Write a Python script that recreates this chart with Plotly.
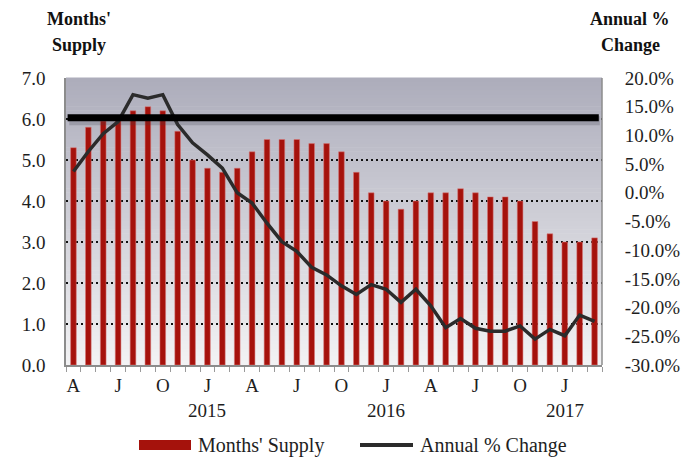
import plotly.graph_objects as go

# ---------------- data ----------------
months = ["2014-04", "2014-05", "2014-06", "2014-07", "2014-08", "2014-09", "2014-10", "2014-11", "2014-12",
          "2015-01", "2015-02", "2015-03", "2015-04", "2015-05", "2015-06", "2015-07", "2015-08", "2015-09",
          "2015-10", "2015-11", "2015-12",
          "2016-01", "2016-02", "2016-03", "2016-04", "2016-05", "2016-06", "2016-07", "2016-08", "2016-09",
          "2016-10", "2016-11", "2016-12",
          "2017-01", "2017-02", "2017-03"]
months_supply = [5.3, 5.8, 5.95, 6.0, 6.2, 6.3, 6.2, 5.7, 5.0,
                 4.8, 4.7, 4.8, 5.2, 5.5, 5.5, 5.5, 5.4, 5.4, 5.2, 4.7, 4.2,
                 4.0, 3.8, 4.0, 4.2, 4.2, 4.3, 4.2, 4.1, 4.1, 4.0, 3.5, 3.2,
                 3.0, 3.0, 3.1]
annual_pct_change = [3.7, 7.2, 10.3, 12.4, 17.1, 16.5, 17.1, 11.9, 8.7,
                     6.6, 4.3, 0.0, -1.8, -5.3, -8.5, -10.2, -13.0, -14.3, -16.2, -17.7, -16.0,
                     -16.8, -19.1, -16.8, -19.7, -23.5, -21.9, -23.6, -24.1, -24.1, -23.2, -25.5, -23.8,
                     -24.9, -21.3, -22.4]
month_letters = {"01": "J", "04": "A", "07": "J", "10": "O"}
left_ticks = [0, 1, 2, 3, 4, 5, 6, 7]
left_ticktext = ["0.0", "1.0", "2.0", "3.0", "4.0", "5.0", "6.0", "7.0"]
right_ticks = [-30, -25, -20, -15, -10, -5, 0, 5, 10, 15, 20]
right_ticktext = ["-30.0%", "-25.0%", "-20.0%", "-15.0%", "-10.0%", "-5.0%", "0.0%",
                  "5.0%", "10.0%", "15.0%", "20.0%"]
balanced_level = 6.03
series_names = ["Months' Supply", "Annual % Change"]
left_title = ["Months'", "Supply"]
right_title = ["Annual %", "Change"]

# ---------------- layout constants ----------------
W, H = 698, 459
PL, PT, PR, PB = 66, 78, 602, 365   # plot area in window pixels
L, T = PL, PT
PW, PH = PR - PL, PB - PT
R, B = W - L - PW, H - T - PH
FONT = "Liberation Serif"
BAR_COLOR = "#A5120C"
LINE_COLOR = "#2b2b2b"
TXT = "#1e1e1e"


def px2x(px):
    return (px - PL) / PW


def py2y(py):
    return (PB - py) / PH


xidx = list(range(len(months)))
tickvals = [i for i, m in enumerate(months) if m[5:] in month_letters]
ticktext = [month_letters[months[i][5:]] for i in tickvals]
year_idx = [i for i, m in enumerate(months) if m[5:] == "01"]

fig = go.Figure()
fig.add_trace(go.Bar(
    x=xidx, y=months_supply, name=series_names[0],
    marker=dict(color=BAR_COLOR, line=dict(color="rgba(215,120,120,0.9)", width=0.6)),
    width=0.38, yaxis="y", showlegend=False,
))
fig.add_trace(go.Scatter(
    x=xidx, y=annual_pct_change, name=series_names[1], mode="lines",
    line=dict(color=LINE_COLOR, width=3.5), yaxis="y2", showlegend=False,
))

shapes = []
# vertical gradient background
n = 70
top_c = (172, 172, 187)
bot_c = (243, 243, 244)
for k in range(n):
    f = (k + 0.5) / n
    c = tuple(round(bot_c[j] + (top_c[j] - bot_c[j]) * f) for j in range(3))
    shapes.append(dict(type="rect", xref="paper", yref="paper", x0=0, x1=1,
                       y0=k / n, y1=(k + 1) / n + 0.002, layer="below",
                       line=dict(width=0), fillcolor="rgb(%d,%d,%d)" % c))
# shadow + balanced-market black line
shapes.append(dict(type="line", xref="paper", yref="y", x0=0.006, x1=0.996,
                   y0=balanced_level - 0.07, y1=balanced_level - 0.07,
                   line=dict(color="rgba(60,60,70,0.22)", width=9), layer="above"))
shapes.append(dict(type="line", xref="paper", yref="y", x0=0.003, x1=0.994,
                   y0=balanced_level, y1=balanced_level,
                   line=dict(color="#000000", width=7), layer="above"))
# right plot border
shapes.append(dict(type="line", xref="paper", yref="paper", x0=1, x1=1, y0=0, y1=1,
                   line=dict(color="#8c8c8c", width=1.5), layer="above"))

# manual legend
ly = py2y(445)
shapes.append(dict(type="rect", xref="paper", yref="paper", x0=px2x(139), x1=px2x(191),
                   y0=py2y(450), y1=py2y(440), fillcolor=BAR_COLOR, line=dict(width=0)))
shapes.append(dict(type="line", xref="paper", yref="paper", x0=px2x(360), x1=px2x(413),
                   y0=ly, y1=ly, line=dict(color=LINE_COLOR, width=4)))

annotations = []
annotations.append(dict(text=series_names[0], xref="paper", yref="paper", x=px2x(196), y=ly,
                        xanchor="left", yanchor="middle", showarrow=False,
                        font=dict(family=FONT, size=20, color=TXT)))
annotations.append(dict(text=series_names[1], xref="paper", yref="paper", x=px2x(418), y=ly,
                        xanchor="left", yanchor="middle", showarrow=False,
                        font=dict(family=FONT, size=20, color=TXT)))
# year labels
for i in year_idx:
    annotations.append(dict(text=months[i][:4], xref="x", yref="paper", x=i, y=py2y(410),
                            xanchor="center", yanchor="middle", showarrow=False,
                            font=dict(family=FONT, size=19, color=TXT)))
# axis titles
for line_txt, ypx in zip(left_title, [19, 45]):
    annotations.append(dict(text="<b>%s</b>" % line_txt, xref="paper", yref="paper",
                            x=px2x(79), y=py2y(ypx), xanchor="center", yanchor="middle",
                            showarrow=False, font=dict(family=FONT, size=18, color="#111")))
for line_txt, ypx in zip(right_title, [19, 45]):
    annotations.append(dict(text="<b>%s</b>" % line_txt, xref="paper", yref="paper",
                            x=px2x(630), y=py2y(ypx), xanchor="center", yanchor="middle",
                            showarrow=False, font=dict(family=FONT, size=18, color="#111")))

fig.update_layout(
    width=W, height=H,
    margin=dict(l=L, r=R, t=T, b=B, pad=0),
    paper_bgcolor="white", plot_bgcolor="rgba(0,0,0,0)",
    font=dict(family=FONT, size=19, color=TXT),
    showlegend=False,
    xaxis=dict(
        range=[-0.5, len(months) - 0.5],
        tickmode="array", tickvals=tickvals, ticktext=ticktext,
        ticks="", showgrid=False, zeroline=False,
        showline=True, linecolor="#8c8c8c", linewidth=1.5,
        ticklabelstandoff=2,
        minor=dict(tickmode="array", tickvals=[i - 0.5 for i in range(len(months) + 1)],
                   ticks="outside", ticklen=5, tickcolor="#9a9a9a", tickwidth=1, showgrid=False),
        tickfont=dict(family=FONT, size=19, color=TXT),
    ),
    yaxis=dict(
        range=[0, 7], tickmode="array", tickvals=left_ticks, ticktext=left_ticktext,
        showgrid=True, gridcolor="#111111", gridwidth=2, griddash="2px,3px",
        zeroline=False, showline=True, linecolor="#8c8c8c", linewidth=1.5,
        ticks="outside", ticklen=15, tickcolor="rgba(0,0,0,0)",
        tickfont=dict(family=FONT, size=19, color=TXT),
    ),
    yaxis2=dict(
        range=[-30, 20], overlaying="y", side="right",
        tickmode="array", tickvals=right_ticks, ticktext=right_ticktext,
        showgrid=False, zeroline=False, showline=False,
        ticks="outside", ticklen=18, tickcolor="rgba(0,0,0,0)",
        tickfont=dict(family=FONT, size=19, color=TXT),
    ),
    shapes=shapes,
    annotations=annotations,
)

fig.write_html(
    "out.html",
    config={"displayModeBar": False},
    post_script="document.body.style.margin='0px';document.body.style.overflow='hidden';",
)
